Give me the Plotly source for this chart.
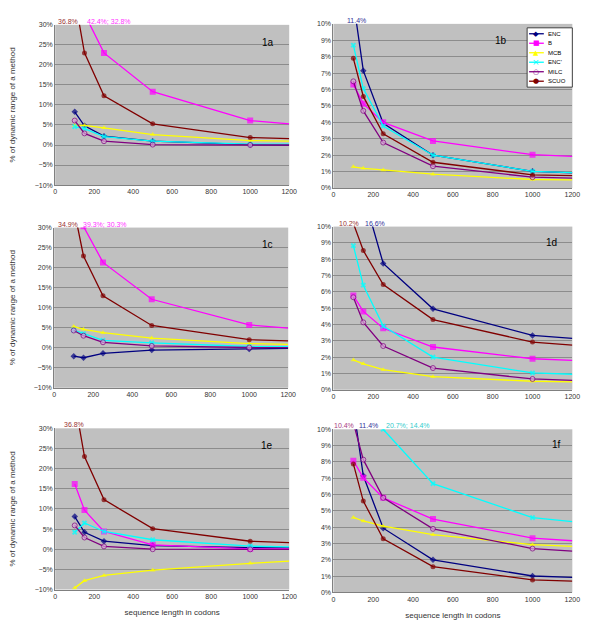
import plotly.graph_objects as go
from plotly.subplots import make_subplots

# sequence lengths (codons); last point only continues the line, no marker
lengths = [100, 150, 250, 500, 1000, 1200]

methods = ["ENC", "B", "MCB", "ENC'", "MILC", "SCUO"]

# panel 1a
a_enc = [8.3, 4.8, 2.2, 0.95, 0.1, 0.0]
a_b = [42.4, 32.8, 23.0, 13.3, 6.1, 5.3]
a_mcb = [4.9, 4.9, 4.3, 2.6, 1.1, 0.95]
a_encp = [4.6, 4.1, 2.1, 0.95, 0.2, 0.2]
a_milc = [6.1, 2.9, 0.95, 0.1, 0.0, 0.0]
a_scuo = [36.8, 23.0, 12.3, 5.3, 1.85, 1.6]

# panel 1b
b_enc = [11.4, 7.15, 3.94, 2.0, 1.02, 0.92]
b_b = [6.3, 5.14, 4.0, 2.87, 2.03, 1.93]
b_mcb = [1.29, 1.2, 1.1, 0.84, 0.52, 0.5]
b_encp = [8.7, 6.06, 3.78, 2.0, 1.02, 0.94]
b_milc = [6.5, 4.7, 2.77, 1.33, 0.66, 0.6]
b_scuo = [7.9, 5.58, 3.3, 1.57, 0.8, 0.76]

# panel 1c
c_enc = [-2.1, -2.5, -1.4, -0.6, -0.3, -0.15]
c_b = [39.3, 30.3, 21.3, 12.1, 5.7, 4.9]
c_mcb = [5.3, 4.6, 3.75, 2.4, 1.03, 0.85]
c_encp = [4.4, 3.5, 1.85, 1.2, 0.3, 0.25]
c_milc = [4.3, 3.0, 1.36, 0.45, 0.05, 0.0]
c_scuo = [34.9, 22.9, 12.96, 5.55, 2.0, 1.7]

# panel 1d
d_enc = [16.6, 12.0, 7.74, 4.96, 3.33, 3.15]
d_b = [5.77, 4.8, 3.77, 2.62, 1.9, 1.8]
d_mcb = [1.83, 1.59, 1.23, 0.8, 0.52, 0.48]
d_encp = [8.83, 6.41, 3.9, 2.0, 1.03, 0.95]
d_milc = [5.67, 4.13, 2.68, 1.33, 0.66, 0.58]
d_scuo = [10.2, 8.53, 6.45, 4.3, 2.92, 2.74]

# panel 1e
e_enc = [8.1, 4.2, 2.0, 0.9, 0.4, 0.35]
e_b = [16.2, 9.7, 4.4, 1.1, 0.1, 0.05]
e_mcb = [-9.6, -7.8, -6.5, -5.2, -3.5, -2.95]
e_encp = [4.2, 6.5, 4.4, 2.35, 0.75, 0.6]
e_milc = [5.9, 2.9, 0.7, 0.0, -0.05, -0.05]
e_scuo = [36.8, 23.0, 12.3, 5.1, 1.97, 1.64]

# panel 1f
f_enc = [11.4, 7.15, 3.94, 2.0, 1.01, 0.93]
f_b = [8.08, 7.03, 5.8, 4.5, 3.33, 3.17]
f_mcb = [4.6, 4.38, 4.06, 3.54, 2.93, 2.83]
f_encp = [20.7, 14.4, 10.0, 6.67, 4.59, 4.34]
f_milc = [10.4, 8.14, 5.8, 3.9, 2.69, 2.53]
f_scuo = [7.88, 5.6, 3.29, 1.58, 0.77, 0.7]

panels = [
    ("1a", [a_enc, a_b, a_mcb, a_encp, a_milc, a_scuo]),
    ("1b", [b_enc, b_b, b_mcb, b_encp, b_milc, b_scuo]),
    ("1c", [c_enc, c_b, c_mcb, c_encp, c_milc, c_scuo]),
    ("1d", [d_enc, d_b, d_mcb, d_encp, d_milc, d_scuo]),
    ("1e", [e_enc, e_b, e_mcb, e_encp, e_milc, e_scuo]),
    ("1f", [f_enc, f_b, f_mcb, f_encp, f_milc, f_scuo]),
]

# off-scale values written above each panel: (panel index, text, method)
offscale = [
    (0, "36.8%", "SCUO"), (0, "42.4%; 32.8%", "B"),
    (1, "11.4%", "ENC"),
    (2, "34.9%", "SCUO"), (2, "39.3%; 30.3%", "B"),
    (3, "10.2%", "SCUO"), (3, "16.6%", "ENC"),
    (4, "36.8%", "SCUO"),
    (5, "10.4%", "MILC"), (5, "11.4%", "ENC"), (5, "20.7%; 14.4%", "ENC'"),
]
offscale_x = [0.004, 0.126, 0.049, 0.008, 0.113, 0.016, 0.123, 0.029, -0.004, 0.099, 0.21]

colors = {"ENC": "#000080", "B": "#FF00FF", "MCB": "#FFFF00",
          "ENC'": "#00FFFF", "MILC": "#800080", "SCUO": "#800000"}
label_colors = {"ENC": "#333399", "B": "#FF33FF", "SCUO": "#993333",
                "MILC": "#A8407F", "ENC'": "#33CCCC"}
symbols = {"ENC": "diamond", "B": "square", "MCB": "triangle-up",
           "ENC'": "x", "MILC": "circle", "SCUO": "circle"}
glyphs = {"ENC": "\u25C6", "B": "\u25A0", "MCB": "\u25B2",
          "ENC'": "\u00D7", "MILC": "\u25CB", "SCUO": "\u25CF"}
sizes = {"ENC": 5, "B": 6, "MCB": 5, "ENC'": 5, "MILC": 5, "SCUO": 5}

font = "Liberation Sans, Arial, sans-serif"

fig = make_subplots(rows=3, cols=2)

for i, (name, series) in enumerate(panels):
    row, col = i // 2 + 1, i % 2 + 1
    for m, ys in zip(methods, series):
        s = sizes[m]
        if m == "MILC":
            marker = dict(symbol="circle", size=[s] * 5 + [0], color="#D9A6D9",
                          line=dict(color=colors[m], width=1))
        else:
            marker = dict(symbol=symbols[m], size=[s] * 5 + [0], color=colors[m],
                          line=dict(width=0))
        fig.add_trace(go.Scatter(
            x=lengths, y=ys, mode="lines+markers", name=m,
            line=dict(color=colors[m], width=1.3), marker=marker,
            showlegend=False), row=row, col=col)

# the page body has an 8px margin, so the figure is drawn 8px in from the window edge
PAD = 8
W, H = 600 - PAD, 637 - PAD


def px(x):
    return (x - PAD) / W


def py(y):
    return 1 - (y - PAD) / H


# plot area boxes in window pixels (left, right, top, bottom)
boxes = [(54, 292, 21, 183), (337, 580, 20, 186),
         (53, 291, 226, 388), (337, 580, 225, 390),
         (54, 292, 429, 592), (337, 580, 430, 595)]
label_pos = [(0.945, 0.938), (0.733, 0.946), (0.945, 0.94),
             (0.946, 0.95), (0.94, 0.94), (0.959, 0.95)]

for i, (l, r, t, b) in enumerate(boxes):
    xa = "xaxis" if i == 0 else f"xaxis{i + 1}"
    ya = "yaxis" if i == 0 else f"yaxis{i + 1}"
    left = i % 2 == 0
    yr = [-10, 30] if left else [0, 10]
    dt = 5 if left else 1
    fig.layout[xa].update(
        domain=[px(l), px(r)], range=[0, 1200], dtick=200, tick0=0,
        showgrid=False, zeroline=False, showline=True, linecolor="#808080",
        ticks="", tickfont=dict(size=7, color="#333333", family=font))
    fig.layout[ya].update(
        domain=[py(b), py(t)], range=yr, dtick=dt, tick0=0,
        ticksuffix="%", showgrid=True, gridcolor="#8C8C8C", gridwidth=1,
        zeroline=False, showline=True, linecolor="#808080",
        ticks="", tickfont=dict(size=7, color="#333333", family=font))
    if left:
        fig.layout[ya].update(title=dict(
            text="% of dynamic range of a method", standoff=20,
            font=dict(size=8, color="#333333", family=font)))
    if i >= 4:
        fig.layout[xa].update(title=dict(
            text="sequence length in codons", standoff=10,
            font=dict(size=8, color="#333333", family=font)))
    xref = "x" if i == 0 else f"x{i + 1}"
    yref = "y" if i == 0 else f"y{i + 1}"
    fig.add_annotation(
        text=panels[i][0], xref=f"{xref} domain", yref=f"{yref} domain",
        x=label_pos[i][0], y=label_pos[i][1], showarrow=False,
        font=dict(size=10, color="black", family=font))

for (i, txt, m), xf in zip(offscale, offscale_x):
    xref = "x" if i == 0 else f"x{i + 1}"
    yref = "y" if i == 0 else f"y{i + 1}"
    fig.add_annotation(
        text=txt, xref=f"{xref} domain", yref=f"{yref} domain",
        x=xf, y=1, xanchor="left", yanchor="bottom", yshift=-2,
        showarrow=False, font=dict(size=7, color=label_colors[m], family=font))

# compact legend box inside panel 1b (plotly's own legend rows are too tall here)
lg_left, lg_right, lg_top, lg_bottom = 534, 580, 24, 84
fig.add_shape(type="rect", xref="paper", yref="paper",
              x0=px(lg_left), x1=px(lg_right), y0=py(lg_bottom), y1=py(lg_top),
              fillcolor="white", line=dict(color="#404040", width=1), layer="above")
for k, m in enumerate(methods):
    yk = py(30 + k * 9.6)
    fig.add_shape(type="line", xref="paper", yref="paper",
                  x0=px(536), x1=px(551), y0=yk, y1=yk,
                  line=dict(color=colors[m], width=1.3), layer="above")
    fig.add_annotation(text=glyphs[m], xref="paper", yref="paper",
                       x=px(543.5), y=yk, showarrow=False, xanchor="center", yanchor="middle",
                       font=dict(size=7 if m != "ENC'" else 9, color=colors[m], family="DejaVu Sans"))
    fig.add_annotation(text=m, xref="paper", yref="paper",
                       x=px(553), y=yk, showarrow=False, xanchor="left", yanchor="middle",
                       font=dict(size=6, color="black", family=font))

fig.update_layout(
    width=W, height=H, margin=dict(l=0, r=0, t=0, b=0),
    paper_bgcolor="white", plot_bgcolor="#C0C0C0",
    font=dict(family=font, size=8, color="#333333"),
    showlegend=False,
)

fig.write_html("out.html")
